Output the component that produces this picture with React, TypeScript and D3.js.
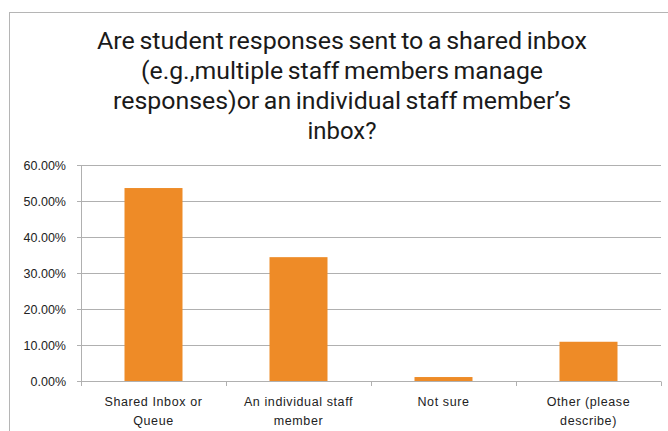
import React, { useEffect, useRef } from 'react';
import * as d3 from 'd3';

const categories = ['Shared Inbox or|Queue', 'An individual staff|member', 'Not sure', 'Other (please|describe)'];
const values = [53.6, 34.4, 1.1, 10.9];
const yTicks = [0, 10, 20, 30, 40, 50, 60];
const titleLines = [
  'Are student responses sent to a shared inbox',
  '(e.g.,multiple staff members manage',
  'responses)or an individual staff member\u2019s',
  'inbox?',
];
// widths of the title lines as they sit in the original
const titleWidths = [490, 402, 458, 69];

const W = 668;
const H = 431;

const App = () => {
  const ref = useRef<SVGSVGElement>(null);

  useEffect(() => {
    const svg = d3.select(ref.current);
    svg.selectAll('*').remove();

    const margin = { top: 165, right: 7, bottom: 50, left: 81 };
    const left = margin.left;
    const right = W - margin.right;
    const top = margin.top;
    const bottom = H - margin.bottom;

    // outer chart frame (runs past the picture edges)
    svg.append('rect')
      .attr('x', 9.5).attr('y', 12.5)
      .attr('width', 720).attr('height', 500)
      .attr('fill', '#fff')
      .attr('stroke', '#b5b5b5');

    const title = svg.append('g')
      .style('font-family', 'Roboto, "Noto Sans", sans-serif')
      .style('font-size', '23px')
      .style('word-spacing', '-1.5px')
      .attr('fill', '#1a1a1a');
    titleLines.forEach((t, i) => {
      title.append('text')
        .attr('x', 342 - titleWidths[i] / 2)
        .attr('y', 49 + i * 30)
        .attr('textLength', titleWidths[i])
        .attr('lengthAdjust', 'spacingAndGlyphs')
        .text(t);
    });

    const x = d3.scaleBand<number>()
      .domain(values.map((_, i) => i))
      .range([left, right])
      .paddingInner(0.6)
      .paddingOuter(0.3);

    const y = d3.scaleLinear().domain([0, 60]).range([bottom, top]);

    const g = svg.append('g');

    // gridlines
    g.selectAll('.grid')
      .data(yTicks)
      .enter().append('line')
      .attr('x1', left - 4)
      .attr('x2', right)
      .attr('y1', d => Math.round(y(d)) + 0.5)
      .attr('y2', d => Math.round(y(d)) + 0.5)
      .attr('stroke', '#b0b0b0')
      .attr('stroke-width', 1);

    // y axis line
    g.append('line')
      .attr('x1', left + 0.5).attr('x2', left + 0.5)
      .attr('y1', Math.round(y(60)) + 0.5).attr('y2', bottom + 0.5)
      .attr('stroke', '#b0b0b0');

    // x tick marks at category boundaries
    const step = x.step();
    const bounds = d3.range(categories.length + 1).map(i => left + i * step);
    g.selectAll('.xtick')
      .data(bounds)
      .enter().append('line')
      .attr('x1', d => Math.round(d) + 0.5)
      .attr('x2', d => Math.round(d) + 0.5)
      .attr('y1', bottom + 0.5)
      .attr('y2', bottom + 5)
      .attr('stroke', '#b0b0b0');

    // y labels
    g.selectAll('.ylab')
      .data(yTicks)
      .enter().append('text')
      .attr('x', 66)
      .attr('y', d => y(d) + 4.5)
      .attr('text-anchor', 'end')
      .style('font-family', '"Liberation Sans", Arial, sans-serif')
      .style('font-size', '12.5px')
      .attr('fill', '#222')
      .text(d => `${d.toFixed(2)}%`);

    // bars
    g.selectAll('.bar')
      .data(values)
      .enter().append('rect')
      .attr('x', (_, i) => x(i)!)
      .attr('width', x.bandwidth())
      .attr('y', d => y(d))
      .attr('height', d => bottom - y(d))
      .attr('fill', '#EE8B27');

    // x labels
    const xl = g.selectAll('.xlab')
      .data(categories)
      .enter().append('text')
      .attr('text-anchor', 'middle')
      .style('font-family', '"Liberation Sans", Arial, sans-serif')
      .style('font-size', '12.5px')
      .style('letter-spacing', '0.6px')
      .attr('fill', '#222');
    xl.each(function (d, i) {
      const cx = x(i)! + x.bandwidth() / 2;
      d.split('|').forEach((line, j) => {
        d3.select(this).append('tspan')
          .attr('x', cx)
          .attr('y', 406 + j * 19)
          .text(line);
      });
    });
  }, []);

  return (
    <svg
      ref={ref}
      width={W}
      height={H}
      style={{ position: 'absolute', left: 0, top: 0, background: '#fff' }}
    />
  );
};

export default App;
